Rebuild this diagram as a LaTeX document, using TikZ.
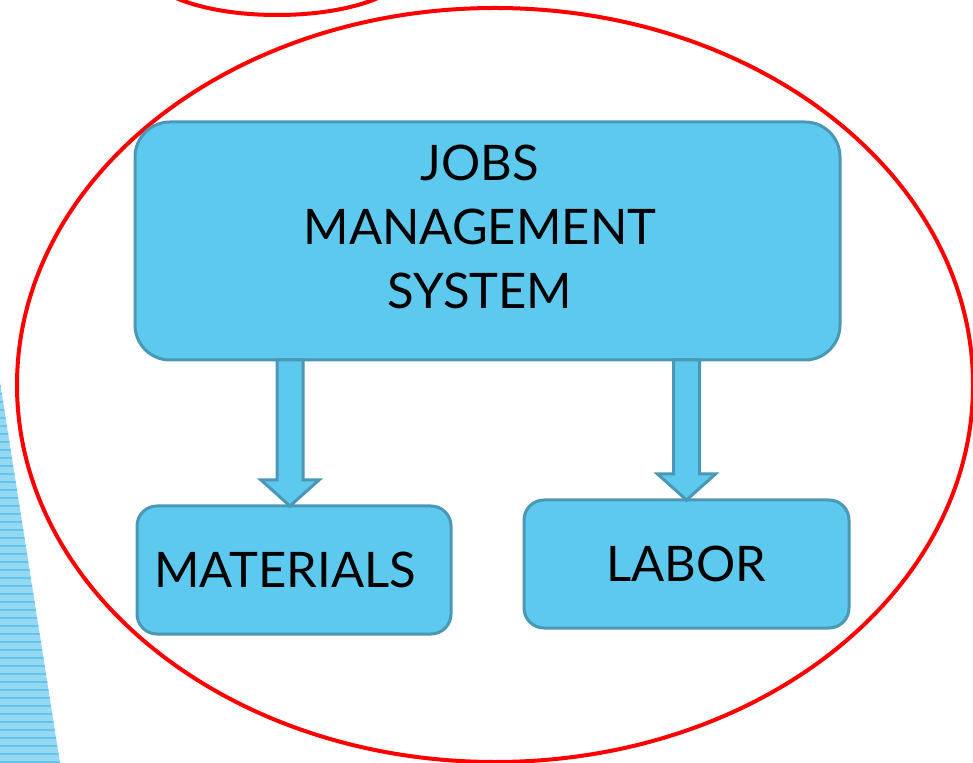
\documentclass[tikz,border=0pt]{standalone}
\usepackage{fontspec}
\setmainfont{Lato}
\usetikzlibrary{calc, positioning}
\usepackage{xcolor}

\definecolor{boxfill}{RGB}{93,201,238}
\definecolor{boxline}{RGB}{74,152,181}
\definecolor{stripefill}{RGB}{150,216,242}
\definecolor{stripeline}{RGB}{98,197,236}

\newcommand{\blockarrow}[2]{%
	\draw[barrow] let \p1=(#1), \p2=(#2) in
	(\x1-6.5pt,\y1) -- (\x1-6.5pt,\y2+13pt) -- (\x1-14.5pt,\y2+13pt) -- (\x2,\y2)
	-- (\x1+14.5pt,\y2+13pt) -- (\x1+6.5pt,\y2+13pt) -- (\x1+6.5pt,\y1) -- cycle;}

\begin{document}
\begin{tikzpicture}[x=0.5pt, y=-0.5pt]
				\tikzstyle{jobbox} = [draw=boxline, fill=boxfill, line width=1.5pt, inner sep=0pt, outer sep=0pt]
				\tikzstyle{bigtext} = [font=\fontsize{24.5}{32}\selectfont, align=center, text=black]
				\tikzstyle{barrow} = [draw=boxline, fill=boxfill, line width=1.5pt, line join=miter]
				\tikzstyle{ring} = [draw=red, line width=2pt]
				
				\useasboundingbox (0,0) rectangle (973,763);
				
				\begin{scope}
					\clip (0,382) -- (60,763) -- (0,763) -- cycle;
					\fill[stripefill] (0,382) rectangle (60,763);
					\foreach \y in {386,394,...,762}
						\draw[stripeline, line width=0.8pt] (0,\y) -- (60,\y);
				\end{scope}
				
				\draw[ring] (277,-31) ellipse [x radius=65pt, y radius=23pt];
				\draw[ring] (495,385) ellipse [x radius=239pt, y radius=188.5pt];
				
				\node[jobbox, rounded corners=17.5pt, minimum width=352.5pt, minimum height=119pt] at (487.5,241) (jms) {};
				\node[bigtext] at (480,227) (jmstext) {JOBS\\MANAGEMENT\\SYSTEM};
				\node[jobbox, rounded corners=10pt, minimum width=157pt, minimum height=64pt, bigtext] at (294,570) (mat) {MATERIALS\hspace*{9pt}};
				\node[jobbox, rounded corners=10pt, minimum width=162.5pt, minimum height=64pt, bigtext] at (686.5,564) (lab) {LABOR};
				
				\coordinate (m1) at ([xshift=-2pt]mat.north);
				\coordinate (l1) at (lab.north);
				
				\blockarrow{jms.south -| m1}{m1}
				\blockarrow{jms.south -| l1}{l1}
			\end{tikzpicture}
\end{document}
